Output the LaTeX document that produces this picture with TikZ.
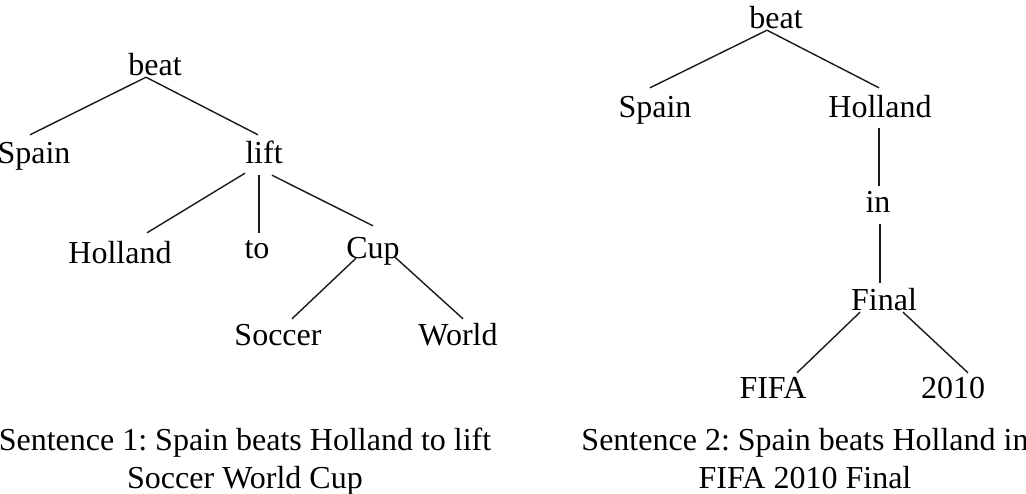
\documentclass[tikz,border=0pt]{standalone}
\usepackage{fontspec}
\setmainfont{Liberation Serif}
\frenchspacing

\tikzset{%
  % Specifications for style of nodes:
         word/.style = {inner sep=0pt, anchor=base, text height=23pt, text depth=0pt, font=\fontsize{32}{38}\selectfont},
      caption/.style = {inner sep=0pt, anchor=north, align=center, font=\fontsize{32}{38}\selectfont},
         edge/.style = {line width=1.4pt, draw=black!90},
}

\begin{document}
\begin{tikzpicture}[x=1pt, y=-1pt]
    \useasboundingbox (0,0) rectangle (1026,493);
    \clip (0,0) rectangle (1026,493);

    % Draw nodes (sentence 1)
    \node (beatA)    [word] at (155,75)  {beat};
    \node (spainA)   [word] at (34,163)  {Spain};
    \node (lift)     [word] at (264,163) {lift};
    \node (hollandA) [word] at (120,263) {Holland};
    \node (to)       [word] at (257,258) {to};
    \node (cup)      [word] at (373,258) {Cup};
    \node (soccer)   [word] at (278,345) {Soccer};
    \node (world)    [word] at (458,345) {World};

    % Draw nodes (sentence 2)
    \node (beatB)    [word] at (776,28)  {beat};
    \node (spainB)   [word] at (655,117) {Spain};
    \node (hollandB) [word] at (880,117) {Holland};
    \node (in)       [word] at (878,212) {in};
    \node (final)    [word] at (884,310) {Final};
    \node (fifa)     [word] at (773,398) {FIFA};
    \node (year)     [word] at (953,398) {2010};

    % Captions
    \node (capA) [caption] at (245,428) {Sentence 1: Spain beats Holland to lift\\Soccer World Cup};
    \node (capB) [caption] at (805,428) {Sentence 2: Spain beats Holland in\\FIFA 2010 Final};

    % Draw edges (sentence 1)
    \draw[edge] ([shift={(-9,2)}]beatA.south) -- ([shift={(-4,-5)}]spainA.north);
    \draw[edge] ([shift={(-9,2)}]beatA.south) -- ([shift={(-6,-5)}]lift.north);
    \draw[edge] ([shift={(-19,10)}]lift.south) -- ([shift={(27,-7)}]hollandA.north);
    \draw[edge] ([shift={(-5,12)}]lift.south) -- ([shift={(2,-2)}]to.north);
    \draw[edge] ([shift={(8,12)}]lift.south) -- ([shift={(0,-9)}]cup.north);
    \draw[edge] ([shift={(-17,0)}]cup.south) -- ([shift={(14,-3)}]soccer.north);
    \draw[edge] ([shift={(22,-1)}]cup.south) -- ([shift={(5,-3)}]world.north);

    % Draw edges (sentence 2)
    \draw[edge] ([shift={(-9,2)}]beatB.south) -- ([shift={(-5,-6)}]spainB.north);
    \draw[edge] ([shift={(-9,2)}]beatB.south) -- ([shift={(-1,-6)}]hollandB.north);
    \draw[edge] ([shift={(-1,11)}]hollandB.south) -- ([shift={(1,-3)}]in.north);
    \draw[edge] ([shift={(2,12)}]in.south) -- ([shift={(-4,-4)}]final.north);
    \draw[edge] ([shift={(-24,2)}]final.south) -- ([shift={(24,-2)}]fifa.north);
    \draw[edge] ([shift={(19,2)}]final.south) -- ([shift={(15,-2)}]year.north);

\end{tikzpicture}
\end{document}
